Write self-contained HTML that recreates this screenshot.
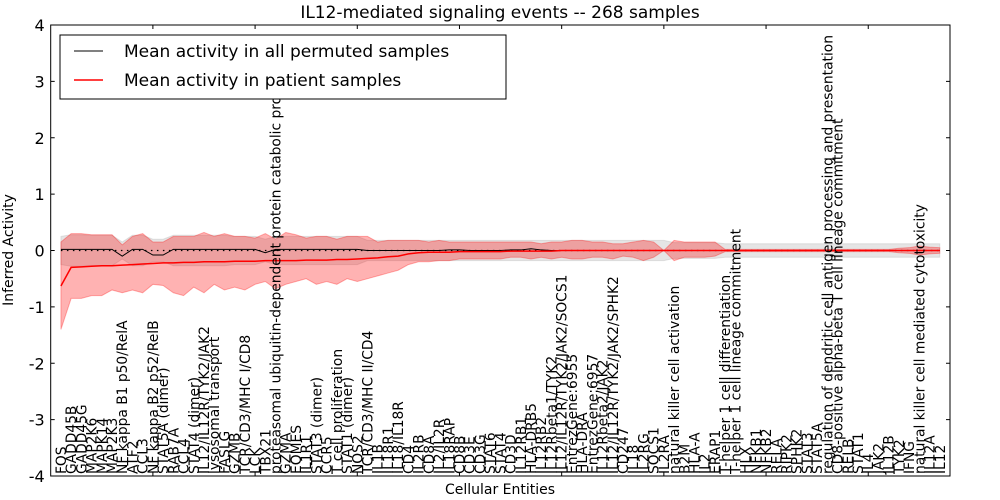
<!DOCTYPE html>
<html><head><meta charset="utf-8"><style>body{margin:0;background:#fff}svg{display:block;font-family:"DejaVu Sans","Liberation Sans",sans-serif}</style></head>
<body>
<svg id="chart" width="1000" height="500" viewBox="0 0 1000 500" xmlns="http://www.w3.org/2000/svg"></svg>
<script>
const categories=["FOS","GADD45B","GADD45G","MAP2K6","MAPK14","MAP2K3","NF kappa B1 p50/RelA","ATF2","CCL3","NF kappa B2 p52/RelB","STAT5A (dimer)","RAB7A","CCL4","STAT4 (dimer)","IL12/IL12R/TYK2/JAK2","lysosomal transport","FASLG","GZMB","TCR/CD3/MHC I/CD8","LCK","TBX21","proteasomal ubiquitin-dependent protein catabolic process","GZMA","EOMES","IL1R1","STAT3 (dimer)","CCR5","T cell proliferation","STAT1 (dimer)","NOS2","TCR/CD3/MHC II/CD4","IL1B","IL18R1","IL18/IL18R","CD4","IL2RB","CD8A","IL2/IL2R","IL18RAP","CD8B","CD3E","CD3G","STAT6","STAT4","CD3D","IL12RB1","HLA-DRB5","IL12RB2","IL12Rbeta1/TYK2","IL12/IL12R/TYK2/JAK2/SOCS1","EntrezGene:6955","HLA-DRA","EntrezGene:6957","IL12Rbeta2/JAK2","IL12/IL12R/TYK2/JAK2/SPHK2","CD247","IL18","IL2RG","SOCS1","IL2RA","natural killer cell activation","B2M","HLA-A","IL2","ERAP1","T-helper 1 cell differentiation","T-helper 1 cell lineage commitment","HLX","NFKB1","NFKB2","RELA","RIPK2","SPHK2","STAT3","STAT5A","regulation of dendritic cell antigen processing and presentation","CD8-positive alpha-beta T cell lineage commitment","RELB","STAT1","IL4","JAK2","IL12B","TYK2","IFNG","natural killer cell mediated cytotoxicity","IL12A","IL12"];
const patientMean=[-0.63,-0.3,-0.29,-0.28,-0.27,-0.27,-0.26,-0.25,-0.24,-0.23,-0.22,-0.22,-0.21,-0.21,-0.2,-0.2,-0.2,-0.19,-0.19,-0.19,-0.18,-0.18,-0.18,-0.18,-0.17,-0.17,-0.17,-0.16,-0.16,-0.15,-0.14,-0.13,-0.11,-0.1,-0.06,-0.04,-0.03,-0.03,-0.03,-0.02,-0.02,-0.02,-0.02,-0.02,-0.01,-0.01,-0.01,-0.01,-0.01,0,0,0,0,0,0,0,0,0,0,0,0,0,0,0,0,0,0,0,0,0,0,0,0,0,0,0,0,0,0,0,0,0,0,0,0,0,0];
const patientUpper=[0.15,0.3,0.3,0.28,0.28,0.28,0.1,0.25,0.3,0.15,0.15,0.25,0.25,0.25,0.32,0.25,0.3,0.25,0.25,0.22,0.3,0.2,0.32,0.28,0.22,0.25,0.25,0.2,0.25,0.25,0.25,0.15,0.18,0.18,0.18,0.18,0.15,0.18,0.15,0.15,0.15,0.15,0.15,0.15,0.15,0.15,0.15,0.12,0.15,0.15,0.18,0.18,0.15,0.15,0.12,0.12,0.15,0.18,0.15,0,0.18,0.15,0.15,0.15,0.15,0.02,0.02,0.02,0.02,0.02,0.02,0.02,0.02,0.02,0.02,0.02,0.02,0.02,0.02,0.02,0.02,0.02,0.04,0.05,0.08,0.06,0.05];
const patientLower=[-1.4,-0.85,-0.85,-0.8,-0.8,-0.7,-0.75,-0.7,-0.75,-0.6,-0.62,-0.75,-0.8,-0.65,-0.75,-0.6,-0.7,-0.65,-0.7,-0.6,-0.55,-0.68,-0.6,-0.55,-0.5,-0.6,-0.55,-0.6,-0.5,-0.55,-0.5,-0.45,-0.4,-0.35,-0.25,-0.2,-0.2,-0.18,-0.18,-0.15,-0.15,-0.15,-0.15,-0.15,-0.12,-0.12,-0.15,-0.12,-0.15,-0.12,-0.15,-0.15,-0.12,-0.12,-0.15,-0.1,-0.12,-0.18,-0.12,0,-0.18,-0.12,-0.12,-0.12,-0.1,-0.02,-0.02,-0.02,-0.02,-0.02,-0.02,-0.02,-0.02,-0.02,-0.02,-0.02,-0.02,-0.02,-0.02,-0.02,-0.02,-0.02,-0.04,-0.05,-0.08,-0.06,-0.05];
const permMean=[0.02,0.02,0.02,0.02,0.02,0.02,-0.1,0.02,0.02,-0.08,-0.08,0.02,0.02,0.02,0.02,0.02,0.02,0.02,0.02,0.02,-0.04,0.02,0.02,0.02,0.02,0.02,0.02,0.02,0.02,0.02,0,0,0,0,0,0,0,0,0.01,0.01,0,0,0,0,0.01,0.01,0.03,0.01,0,0,0,0,0,0,0,0,0,0,0,0,0,0,0,0,0,0,0,0,0,0,0,0,0,0,0,0,0,0,0,0,0,0,0,0,0,0,0];
const permUpper=[0.25,0.28,0.28,0.27,0.27,0.27,0.15,0.27,0.27,0.2,0.2,0.27,0.27,0.27,0.27,0.27,0.27,0.25,0.25,0.25,0.2,0.25,0.25,0.25,0.25,0.25,0.25,0.25,0.25,0.25,0.18,0.18,0.18,0.18,0.18,0.18,0.18,0.18,0.18,0.18,0.18,0.18,0.18,0.18,0.18,0.18,0.18,0.18,0.18,0.18,0.18,0.18,0.18,0.18,0.18,0.18,0.18,0.18,0.18,0.18,0.14,0.14,0.14,0.14,0.14,0.12,0.12,0.12,0.12,0.12,0.12,0.12,0.12,0.12,0.12,0.12,0.12,0.12,0.12,0.12,0.12,0.12,0.12,0.12,0.12,0.12,0.12];
const permLower=permUpper.map(v=>-v);
const yTicks=[-4,-3,-2,-1,0,1,2,3,4];
const xTicks=[10,20,30,40,50,60,70,80];

const NS="http://www.w3.org/2000/svg",svg=document.getElementById('chart');
const L=50.7,R=950,T=25,B=476;
const xs=i=>L+(i+1)*(R-L)/88;
const ys=v=>T+(4-v)*(B-T)/8;
function mk(t,a,p){const e=document.createElementNS(NS,t);for(const k in a)e.setAttribute(k,a[k]);(p||svg).appendChild(e);return e;}
function band(up,lo,fill,op,stroke){let d='M'+up.map((v,i)=>xs(i)+','+ys(v)).join('L');for(let i=lo.length-1;i>=0;i--)d+='L'+xs(i)+','+ys(lo[i]);d+='Z';return mk('path',{d:d,fill:fill,'fill-opacity':op,stroke:stroke,'stroke-opacity':op,'stroke-width':1});}
function line(v,c,w){return mk('path',{d:'M'+v.map((y,i)=>xs(i)+','+ys(y)).join('L'),fill:'none',stroke:c,'stroke-width':w});}

const defs=mk('defs',{});
const cp=mk('clipPath',{id:'plotclip'},defs);
mk('rect',{x:L,y:T,width:R-L,height:B-T},cp);

const gb=band(permUpper,permLower,'#aaaaaa',0.3,'#aaaaaa');

const rb=band(patientUpper,patientLower,'#ff0000',0.3,'#ff0000');

const zl=mk('line',{x1:xs(0),x2:xs(86),y1:ys(0),y2:ys(0),stroke:'#000','stroke-width':1.2,'stroke-dasharray':'1.5,4.5'});

const bl=line(permMean,'#000',1);

const rl=line(patientMean,'#ff0000',1.5);


const fr=mk('rect',{x:L,y:T,width:R-L,height:B-T,fill:'none',stroke:'#000','stroke-width':1});

yTicks.forEach(v=>{
  mk('line',{x1:L,x2:L+4,y1:ys(v),y2:ys(v),stroke:'#000'});
  mk('line',{x1:R-4,x2:R,y1:ys(v),y2:ys(v),stroke:'#000'});
  const t=mk('text',{x:L-6,y:ys(v)+6,'text-anchor':'end','font-size':16});t.textContent=v;
  
});
xTicks.forEach(v=>{const x=L+v*(R-L)/88;mk('line',{x1:x,x2:x,y1:T,y2:T+4,stroke:'#000'});mk('line',{x1:x,x2:x,y1:B-4,y2:B,stroke:'#000'});});
const lblg=mk('g',{'clip-path':'url(#plotclip)'});
categories.forEach((c,i)=>{
  const x=xs(i)+5,y=474;
  const t=mk('text',{x:x,y:y,transform:`rotate(-90 ${x} ${y})`,'font-size':13.8},lblg);t.textContent=c;
  
});
const ti=mk('text',{x:500,y:18,'text-anchor':'middle','font-size':17});ti.textContent='IL12-mediated signaling events -- 268 samples';

const xt=mk('text',{x:500,y:494,'text-anchor':'middle','font-size':14});xt.textContent='Cellular Entities';

const yt=mk('text',{x:13,y:250,'text-anchor':'middle','font-size':14,transform:'rotate(-90 13 250)'});yt.textContent='Inferred Activity';


const lg=mk('g',{});

mk('rect',{x:60,y:35,width:446,height:64,fill:'#fff',stroke:'#000','stroke-width':1},lg);
mk('line',{x1:74,x2:103,y1:51,y2:51,stroke:'#000','stroke-width':1},lg);
mk('line',{x1:74,x2:103,y1:80,y2:80,stroke:'#ff0000','stroke-width':1.5},lg);
const l1=mk('text',{x:124,y:57,'font-size':17},lg);l1.textContent='Mean activity in all permuted samples';

const l2=mk('text',{x:124,y:86,'font-size':17},lg);l2.textContent='Mean activity in patient samples';

</script>
</body></html>
